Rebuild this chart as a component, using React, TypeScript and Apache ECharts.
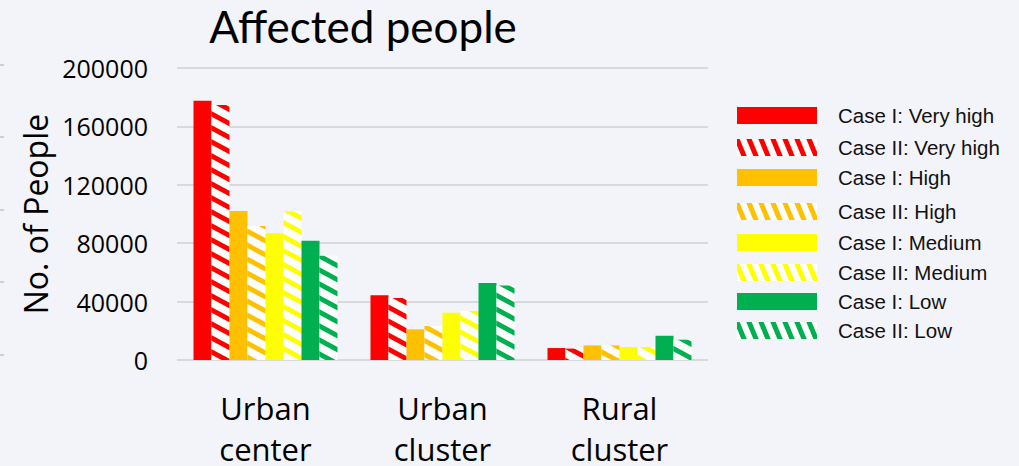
import React, { useEffect, useRef } from "react";
import * as echarts from "echarts";

const categories = ["Urban\ncenter", "Urban\ncluster", "Rural\ncluster"];
const seriesNames = [
  "Case I: Very high",
  "Case II: Very high",
  "Case I: High",
  "Case II: High",
  "Case I: Medium",
  "Case II: Medium",
  "Case I: Low",
  "Case II: Low",
];
const caseIVeryHigh = [177500, 44300, 8200];
const caseIIVeryHigh = [174700, 42500, 7800];
const caseIHigh = [102000, 21000, 10000];
const caseIIHigh = [91800, 23300, 10000];
const caseIMedium = [86800, 32400, 8900];
const caseIIMedium = [101800, 33600, 8900];
const caseILow = [81700, 52700, 16600];
const caseIILow = [71400, 51100, 13900];
const seriesValues = [
  caseIVeryHigh,
  caseIIVeryHigh,
  caseIHigh,
  caseIIHigh,
  caseIMedium,
  caseIIMedium,
  caseILow,
  caseIILow,
];
const levelColors = ["#FF0000", "#FFC000", "#FFFF00", "#00B050"];
const yTicks = [0, 40000, 80000, 120000, 160000, 200000];

// Diagonal "\" stripes on white, tiled seamlessly along the tile's diagonal.
function stripeTile(color: string, w: number, h: number, frac: number) {
  const c = document.createElement("canvas");
  c.width = w;
  c.height = h;
  const ctx = c.getContext("2d")!;
  ctx.fillStyle = "#ffffff";
  ctx.fillRect(0, 0, w, h);
  ctx.fillStyle = color;
  const t = w * frac;
  for (let k = -1; k <= 1; k++) {
    const x0 = k * w - t / 2;
    ctx.beginPath();
    ctx.moveTo(x0, 0);
    ctx.lineTo(x0 + t, 0);
    ctx.lineTo(x0 + t + w, h);
    ctx.lineTo(x0 + w, h);
    ctx.closePath();
    ctx.fill();
  }
  return {
    image: c.toDataURL(),
    imageWidth: w,
    imageHeight: h,
    repeat: "repeat",
  } as any;
}

// legend rows: vertical centre of each entry
const legendRows = [115, 147, 177, 211, 242, 272, 301, 330];

export default function App() {
  const ref = useRef<HTMLDivElement>(null);

  useEffect(() => {
    document.body.style.margin = "0";
    const chart = echarts.init(ref.current!, undefined, { renderer: "svg" });

    const series = seriesNames.map((name, i) => {
      const color = levelColors[Math.floor(i / 2)];
      const hatched = i % 2 === 1;
      return {
        name,
        type: "bar",
        data: seriesValues[i],
        barWidth: 18,
        barGap: "0%",
        itemStyle: {
          color: hatched ? stripeTile(color, 26, 14, 0.4) : color,
        },
      };
    });

    const legends = seriesNames.map((name, i) => {
      const color = levelColors[Math.floor(i / 2)];
      const hatched = i % 2 === 1;
      return {
        left: 737,
        top: legendRows[i] - 10,
        padding: 0,
        itemWidth: 80,
        itemHeight: 17,
        icon: "rect",
        selectedMode: false,
        textStyle: {
          fontFamily: "Liberation Sans",
          fontSize: 20.5,
          color: "#111111",
          padding: [3, 0, 0, 16],
        },
        data: [
          {
            name,
            itemStyle: {
              color: hatched ? stripeTile(color, 12, 29, 0.45) : color,
            },
          },
        ],
      };
    });

    const edgeMarks = [65, 137, 210, 282, 355].map((y) => ({
      type: "line",
      shape: { x1: 0, y1: y, x2: 4, y2: y },
      style: { stroke: "#cfcfd4", lineWidth: 2 },
    }));

    chart.setOption({
      animation: false,
      backgroundColor: "#F3F4F9",
      title: {
        text: "Affected people",
        left: 363,
        top: 4,
        padding: 0,
        textAlign: "center",
        textStyle: {
          fontFamily: "Lato",
          fontSize: 44,
          fontWeight: "normal",
          color: "#000000",
        },
      },
      grid: {
        left: 177,
        right: 311,
        top: 68,
        bottom: 106,
        outerBoundsMode: "none",
      },
      legend: legends,
      xAxis: {
        type: "category",
        data: categories,
        axisLine: { show: false },
        axisTick: { show: false },
        axisLabel: {
          margin: 27,
          fontFamily: "Open Sans",
          fontSize: 31,
          lineHeight: 41,
          color: "#000000",
        },
      },
      yAxis: {
        type: "value",
        min: yTicks[0],
        max: yTicks[yTicks.length - 1],
        interval: 40000,
        name: "No. of People",
        nameLocation: "middle",
        nameGap: 121,
        nameTextStyle: {
          fontFamily: "Open Sans",
          fontSize: 32,
          color: "#000000",
        },
        axisLine: { show: false },
        axisTick: { show: false },
        axisLabel: {
          margin: 29,
          fontFamily: "Open Sans",
          fontSize: 25,
          color: "#000000",
          formatter: (v: number) => String(v),
        },
        splitLine: { lineStyle: { color: "#d9d9dc", width: 2 } },
      },
      graphic: edgeMarks,
      series,
    });

    return () => chart.dispose();
  }, []);

  return (
    <div
      ref={ref}
      style={{ position: "fixed", left: 0, top: 0, width: 1019, height: 466 }}
    />
  );
}
